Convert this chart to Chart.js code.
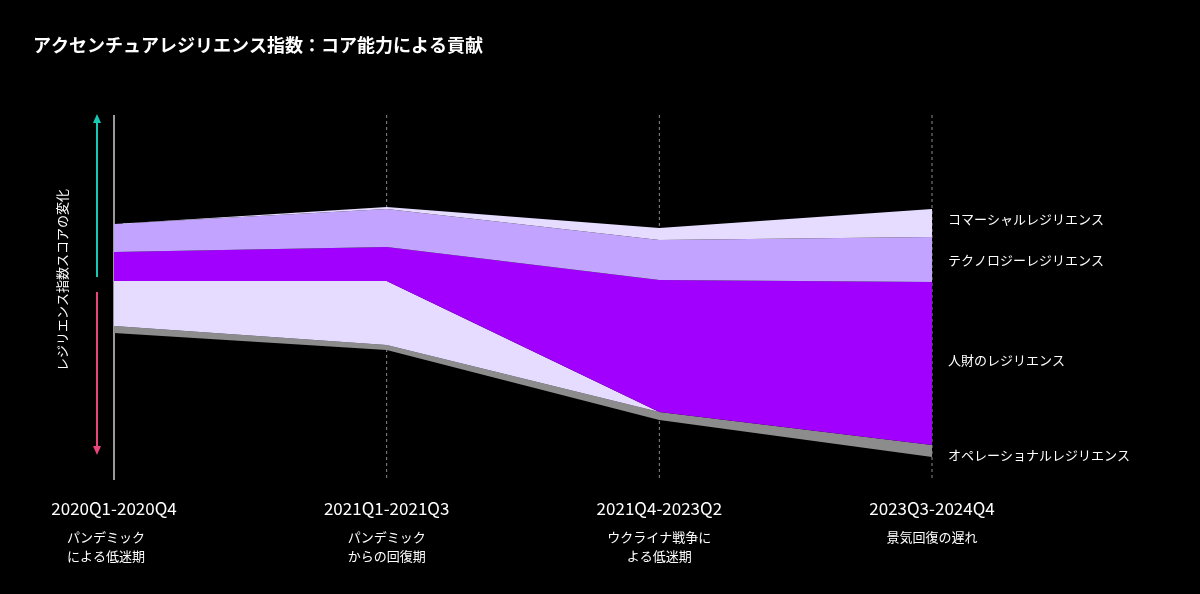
<!DOCTYPE html>
<html><head><meta charset="utf-8">
<script src="https://cdn.jsdelivr.net/npm/chart.js@4"></script>
<style>html,body{margin:0;background:#000;}#wrap{width:1200px;height:594px;}</style>
</head><body><div id="wrap"><canvas id="c"></canvas></div>
<script>
// periods and labels
const periods = ["2020Q1-2020Q4","2021Q1-2021Q3","2021Q4-2023Q2","2023Q3-2024Q4"];
const periodNotes = [["パンデミック","による低迷期"],["パンデミック","からの回復期"],["ウクライナ戦争に","よる低迷期"],["景気回復の遅れ"]];
const seriesNames = ["コマーシャルレジリエンス","テクノロジーレジリエンス","人財のレジリエンス","オペレーショナルレジリエンス"];
const seriesLabelY = [26.1, 22.0, 12.0, 2.5];

// stacked band boundaries (index units), top to bottom
const edgeTop      = [25.6, 27.3, 25.2, 27.1];
const edgeComm     = [25.6, 27.1, 24.0, 24.3];
const edgeTech     = [22.8, 23.3, 20.0, 19.8];
const edgePeople   = [19.9, 19.9,  6.8,  3.5];
const edgeCommNeg  = [15.4, 13.5,  6.8,  3.5];
const edgeOps      = [14.7, 13.0,  6.0,  2.3];

const edges = [edgeTop, edgeComm, edgeTech, edgePeople, edgeCommNeg, edgeOps];
const fills = [null, "#e6dcff", "#c2a3ff", "#a100ff", "#e6dcff", "#8c8c8c"];

const FONT = "'Noto Sans CJK JP','Noto Sans',sans-serif";

const deco = {
  id: "deco",
  beforeDatasetsDraw(chart){
    const {ctx, scales:{x,y}} = chart;
    ctx.save();
    periods.forEach((p,i)=>{
      const px = x.getPixelForValue(i);
      ctx.beginPath();
      ctx.strokeStyle = i===0 ? "#9a9a9a" : "#8a8a8a";
      ctx.lineWidth = i===0 ? 2 : 1;
      ctx.setLineDash(i===0 ? [] : [3,3]);
      ctx.moveTo(px, 115); ctx.lineTo(px, 480); ctx.stroke();
    });
    ctx.restore();
  },
  afterDraw(chart){
    const {ctx, scales:{x,y}} = chart;
    ctx.save();
    ctx.fillStyle = "#fff";
    ctx.font = "bold 18px " + FONT;
    ctx.textBaseline = "middle";
    ctx.fillText("アクセンチュアレジリエンス指数：コア能力による貢献", 33, 45);

    // arrows
    const arrow = (x0,y0,y1,col)=>{
      ctx.strokeStyle = col; ctx.fillStyle = col; ctx.lineWidth = 2;
      ctx.beginPath(); ctx.moveTo(x0,y0); ctx.lineTo(x0,y1); ctx.stroke();
      const d = y1<y0 ? -1 : 1;
      ctx.beginPath(); ctx.moveTo(x0,y1+d*2); ctx.lineTo(x0-4,y1-d*7); ctx.lineTo(x0+4,y1-d*7); ctx.closePath(); ctx.fill();
    };
    arrow(97, 277, 116, "#19c8b4");
    arrow(97, 292, 453, "#e8457e");

    ctx.fillStyle = "#fff";
    ctx.save();
    ctx.translate(62, 280); ctx.rotate(-Math.PI/2);
    ctx.font = "13px " + FONT; ctx.textAlign = "center";
    ctx.fillText("レジリエンス指数スコアの変化", 0, 0);
    ctx.restore();

    ctx.font = "13px " + FONT; ctx.textAlign = "left";
    seriesNames.forEach((n,i)=> ctx.fillText(n, 948, y.getPixelForValue(seriesLabelY[i])));

    ctx.textAlign = "center";
    periods.forEach((p,i)=>{
      const px = x.getPixelForValue(i);
      ctx.font = "17px " + FONT;
      ctx.fillText(p, px, 509);
      ctx.font = "13px " + FONT;
      periodNotes[i].forEach((t,j)=> ctx.fillText(t, px - (i===0?8:0), 537 + j*19));
    });
    ctx.restore();
  }
};

new Chart(document.getElementById("c"), {
  type: "line",
  data: {
    labels: periods,
    datasets: edges.map((e,i)=>({
      data: e.map((v,k)=>({x:k, y:v})),
      borderWidth: 0, pointRadius: 0, tension: 0,
      backgroundColor: fills[i] || "transparent",
      fill: i===0 ? false : "-1"
    }))
  },
  options: {
    responsive: true, maintainAspectRatio: false, animation: false,
    layout: { padding: { left: 114, right: 268, top: 80, bottom: 114 } },
    plugins: { legend: { display: false }, tooltip: { enabled: false } },
    scales: {
      x: { type: "linear", min: 0, max: 3, display: false },
      y: { min: 0, max: 40, display: false }
    }
  },
  plugins: [deco]
});
</script></body></html>
